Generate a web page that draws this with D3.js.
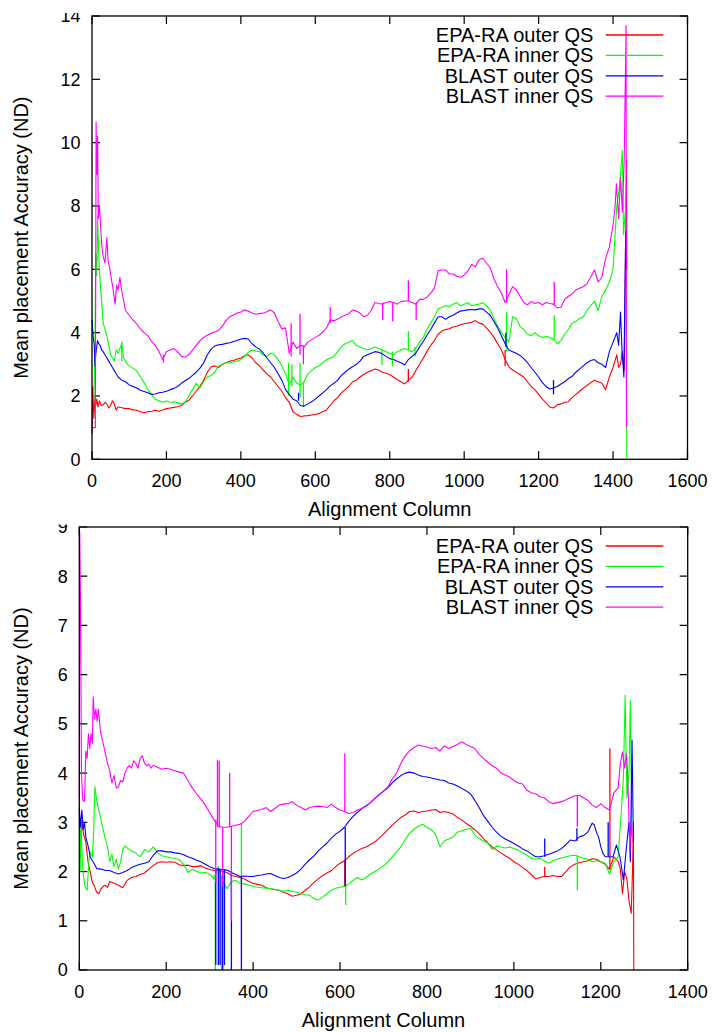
<!DOCTYPE html>
<html><head><meta charset="utf-8">
<script src="https://cdn.jsdelivr.net/npm/d3@7"></script>
<style>body{margin:0;background:#fff}svg{display:block}text{font-family:"Liberation Sans",Arial,sans-serif;fill:#000}</style>
</head><body><svg id="c" width="715" height="1033"></svg>
<script>
// ---------------- DATA ----------------
const seriesNames = ["EPA-RA outer QS","EPA-RA inner QS","BLAST outer QS","BLAST inner QS"];
const seriesColors = ["#ff0000","#00ff00","#0000ff","#ff00ff"];
const xLabel = "Alignment Column";
const yLabel = "Mean placement Accuracy (ND)";
const topXTicks = [0,200,400,600,800,1000,1200,1400,1600];
const topYTicks = [0,2,4,6,8,10,12,14];
const botXTicks = [0,200,400,600,800,1000,1200,1400];
const botYTicks = [0,1,2,3,4,5,6,7,8,9];

// Top chart: [column, mean accuracy]
const topRed = [[0,0.8],[2,2.3],[5,1.3],[8,1.95],[10,1.7],[13,1.9],[16,1.65],[20,1.85],[25,1.7],[30,1.72],[35,1.8],[40,1.75],[45,1.62],[50,1.7],[55,1.85],[60,1.75],[65,1.55],[70,1.65],[80,1.63],[90,1.6],[100,1.6],[110,1.56],[120,1.55],[130,1.5],[140,1.47],[150,1.5],[160,1.52],[170,1.55],[180,1.52],[190,1.56],[200,1.6],[210,1.62],[220,1.64],[230,1.66],[240,1.7],[250,1.8],[260,1.86],[270,2.0],[280,2.15],[290,2.3],[300,2.5],[310,2.75],[320,2.92],[330,2.95],[340,2.9],[350,3.0],[360,3.05],[370,3.1],[380,3.12],[390,3.17],[400,3.2],[410,3.27],[420,3.3],[430,3.2],[440,3.05],[450,2.95],[460,2.82],[470,2.7],[480,2.6],[490,2.45],[500,2.3],[510,2.15],[520,1.95],[530,1.8],[540,1.5],[550,1.42],[560,1.35],[570,1.37],[580,1.38],[590,1.4],[600,1.41],[610,1.45],[620,1.5],[630,1.56],[640,1.7],[650,1.85],[660,1.95],[670,2.1],[680,2.2],[690,2.3],[700,2.45],[710,2.5],[720,2.6],[730,2.68],[740,2.75],[750,2.8],[760,2.85],[770,2.82],[780,2.75],[790,2.72],[800,2.68],[810,2.6],[820,2.52],[830,2.45],[840,2.38],[850,2.5],[860,2.6],[870,2.8],[880,3.0],[890,3.2],[900,3.4],[910,3.6],[920,3.75],[930,3.95],[940,4.05],[950,4.1],[960,4.12],[970,4.18],[980,4.2],[990,4.25],[1000,4.28],[1010,4.3],[1020,4.33],[1030,4.38],[1040,4.3],[1050,4.27],[1060,4.15],[1070,4.02],[1080,3.85],[1090,3.65],[1100,3.45],[1110,3.15],[1120,2.92],[1130,2.82],[1140,2.75],[1150,2.68],[1160,2.6],[1170,2.45],[1180,2.3],[1190,2.2],[1200,2.05],[1210,1.9],[1220,1.78],[1230,1.65],[1240,1.62],[1250,1.72],[1260,1.75],[1270,1.8],[1280,1.82],[1290,1.95],[1300,2.05],[1310,2.15],[1320,2.25],[1330,2.33],[1340,2.42],[1350,2.5],[1360,2.45],[1370,2.4],[1380,2.2],[1390,2.6],[1400,2.9],[1410,3.3],[1415,2.9],[1420,3.0],[1425,3.4],[1430,2.8],[1436,9.45],[1437,6.0]];
const topGreen = [[5,1.9],[8,3.5],[10,6.5],[13,5.8],[15,7.7],[18,6.5],[20,6.0],[23,5.4],[26,5.0],[30,4.3],[35,4.1],[40,3.9],[45,3.6],[50,3.3],[55,3.2],[60,3.1],[65,3.45],[70,3.35],[75,3.5],[80,3.65],[85,3.2],[90,3.1],[95,3.0],[100,2.95],[110,2.88],[120,2.8],[130,2.6],[140,2.42],[150,2.2],[160,2.05],[170,1.9],[180,1.85],[190,1.8],[200,1.84],[210,1.8],[220,1.82],[230,1.79],[240,1.75],[250,1.8],[260,2.0],[270,2.2],[280,2.4],[290,2.25],[300,2.45],[310,2.6],[320,2.65],[330,2.75],[340,2.95],[350,3.0],[360,3.05],[370,3.04],[380,3.08],[390,3.1],[400,3.15],[410,3.25],[420,3.38],[430,3.45],[440,3.42],[450,3.4],[460,3.3],[470,3.25],[480,3.35],[490,3.3],[500,3.15],[510,2.95],[520,2.7],[530,2.35],[540,2.6],[550,2.4],[560,2.35],[570,2.45],[580,2.7],[590,2.8],[600,2.9],[610,2.95],[620,3.05],[630,3.15],[640,3.2],[650,3.25],[660,3.4],[670,3.55],[680,3.65],[690,3.7],[700,3.75],[710,3.6],[720,3.55],[730,3.5],[740,3.45],[750,3.5],[760,3.55],[770,3.5],[780,3.45],[790,3.4],[800,3.35],[810,3.3],[820,3.4],[830,3.45],[840,3.5],[850,3.45],[860,3.4],[870,3.5],[880,3.7],[890,3.85],[900,4.1],[910,4.3],[920,4.5],[930,4.75],[940,4.8],[950,4.85],[960,4.82],[970,4.9],[980,4.95],[990,4.85],[1000,4.9],[1010,4.95],[1020,4.85],[1030,4.88],[1040,4.9],[1050,4.95],[1060,4.85],[1070,4.72],[1080,4.45],[1090,4.2],[1100,4.0],[1110,3.85],[1120,3.7],[1130,4.5],[1140,4.45],[1150,4.2],[1160,4.1],[1170,3.95],[1180,3.9],[1190,4.0],[1200,3.9],[1210,3.85],[1220,3.88],[1230,3.85],[1240,3.8],[1250,3.65],[1260,3.75],[1270,3.95],[1280,4.1],[1290,4.3],[1300,4.35],[1310,4.45],[1320,4.5],[1330,4.7],[1340,4.85],[1350,5.0],[1360,4.7],[1370,5.15],[1380,5.35],[1390,5.6],[1400,6.0],[1405,7.0],[1410,8.0],[1415,8.4],[1420,9.0],[1425,9.75],[1428,7.1],[1434,8.0],[1437,0]];
const topBlue = [[0,4.4],[3,3.9],[6,3.6],[8,2.95],[10,3.3],[12,3.5],[15,3.75],[18,3.65],[22,3.6],[26,3.45],[30,3.4],[35,3.3],[40,3.2],[45,3.1],[50,3.0],[55,2.9],[60,2.8],[65,2.7],[70,2.6],[75,2.55],[80,2.5],[90,2.45],[100,2.35],[110,2.3],[120,2.25],[130,2.18],[140,2.14],[150,2.1],[160,2.05],[170,2.06],[180,2.1],[190,2.12],[200,2.15],[210,2.2],[220,2.24],[230,2.3],[240,2.4],[250,2.48],[260,2.55],[270,2.65],[280,2.75],[290,2.88],[300,3.05],[310,3.3],[320,3.48],[330,3.58],[340,3.62],[350,3.63],[360,3.66],[370,3.68],[380,3.72],[390,3.75],[400,3.8],[410,3.82],[420,3.8],[430,3.65],[440,3.55],[450,3.48],[460,3.35],[470,3.2],[480,3.05],[490,2.9],[500,2.7],[510,2.5],[520,2.2],[530,2.05],[540,1.9],[550,1.85],[560,1.7],[570,1.68],[580,1.75],[590,1.82],[600,1.9],[610,2.0],[620,2.1],[630,2.2],[640,2.32],[650,2.4],[660,2.5],[670,2.65],[680,2.75],[690,2.85],[700,2.92],[710,3.0],[720,3.1],[730,3.25],[740,3.3],[750,3.35],[760,3.4],[770,3.38],[780,3.33],[790,3.25],[800,3.18],[810,3.15],[820,3.1],[830,3.05],[840,2.98],[850,3.15],[860,3.25],[870,3.35],[880,3.55],[890,3.72],[900,3.92],[910,4.1],[920,4.3],[930,4.5],[940,4.5],[950,4.42],[960,4.5],[970,4.55],[980,4.62],[990,4.68],[1000,4.7],[1010,4.72],[1020,4.73],[1030,4.72],[1040,4.75],[1050,4.75],[1060,4.65],[1070,4.55],[1080,4.35],[1090,4.15],[1100,3.9],[1110,3.65],[1120,3.45],[1130,3.4],[1140,3.35],[1150,3.28],[1160,3.18],[1170,3.05],[1180,2.9],[1190,2.75],[1200,2.6],[1210,2.42],[1220,2.3],[1230,2.22],[1240,2.25],[1250,2.3],[1260,2.38],[1270,2.45],[1280,2.55],[1290,2.62],[1300,2.75],[1310,2.85],[1320,2.95],[1330,3.05],[1340,3.12],[1350,3.15],[1360,3.05],[1370,3.0],[1380,2.9],[1390,3.4],[1400,3.7],[1410,4.0],[1415,3.6],[1420,4.65],[1424,3.45],[1429,2.6],[1434,7.2],[1436,6.0]];
const topMagenta = [[0,1.0],[5,1.0],[9,1.0],[11,10.65],[13,9.0],[15,10.2],[17,7.6],[20,8.0],[23,7.4],[26,6.8],[30,6.4],[35,6.2],[40,7.0],[43,6.3],[48,6.0],[52,5.7],[57,5.35],[62,4.9],[66,5.5],[70,5.35],[75,5.75],[80,5.3],[85,5.0],[90,4.7],[100,4.55],[110,4.4],[120,4.28],[130,4.12],[140,4.0],[150,3.9],[160,3.72],[170,3.6],[180,3.4],[190,3.15],[200,3.4],[210,3.45],[220,3.5],[230,3.4],[240,3.25],[250,3.22],[260,3.3],[270,3.45],[280,3.6],[290,3.75],[300,3.85],[310,3.92],[320,3.98],[330,4.02],[340,4.07],[350,4.2],[360,4.38],[370,4.5],[380,4.56],[390,4.62],[400,4.65],[410,4.72],[420,4.68],[430,4.62],[440,4.58],[450,4.6],[460,4.62],[470,4.66],[480,4.72],[490,4.62],[500,4.35],[510,4.12],[520,4.15],[530,3.35],[540,3.7],[550,3.5],[560,3.6],[570,3.55],[580,3.7],[590,3.78],[600,3.85],[610,3.92],[620,4.02],[630,4.15],[640,4.4],[650,4.38],[660,4.42],[670,4.5],[680,4.55],[690,4.6],[700,4.72],[710,4.68],[720,4.62],[730,4.5],[740,4.55],[750,4.7],[760,4.95],[770,4.92],[780,4.9],[790,4.95],[800,4.98],[810,4.95],[820,4.9],[830,4.98],[840,5.0],[850,5.0],[860,4.95],[870,4.9],[880,5.05],[890,5.05],[900,5.12],[910,5.25],[920,5.4],[930,5.95],[940,5.98],[950,5.98],[960,5.85],[970,5.85],[980,5.78],[990,5.75],[1000,5.82],[1010,5.95],[1020,6.15],[1030,6.08],[1040,6.3],[1050,6.35],[1060,6.2],[1070,6.05],[1080,5.7],[1090,5.45],[1100,5.25],[1110,4.95],[1120,5.2],[1130,5.45],[1140,5.35],[1150,5.15],[1160,4.95],[1170,4.88],[1180,4.98],[1190,4.92],[1200,4.95],[1210,4.88],[1220,4.95],[1230,4.92],[1240,4.9],[1250,4.78],[1260,4.8],[1270,5.05],[1280,5.15],[1290,5.22],[1300,5.35],[1310,5.4],[1320,5.45],[1330,5.55],[1340,5.75],[1350,5.98],[1360,5.6],[1370,5.75],[1380,6.35],[1390,6.7],[1400,7.4],[1405,7.9],[1409,8.7],[1415,7.6],[1420,8.9],[1425,7.8],[1430,9.5],[1435,13.7],[1436,1.0]];
// single-column spikes: [column, low, high]
const topRedSpikes = [[850,2.45,2.85],[1110,2.95,3.45]];
const topGreenSpikes = [[80,3.1,3.72],[528,2.0,3.05],[537,2.3,3.0],[559,1.95,3.05],[568,1.65,2.4],[779,2.98,3.5],[807,2.95,3.4],[850,3.45,4.05],[868,3.25,3.55],[1114,3.4,4.65],[1242,3.8,4.55]];
const topBlueSpikes = [[555,1.85,2.1],[1112,3.55,4.0],[1240,2.05,2.5]];
const topMagentaSpikes = [[192,3.05,3.3],[535,3.25,4.3],[559,3.3,4.6],[568,3.0,3.6],[640,4.3,4.8],[781,4.4,4.95],[808,4.35,4.95],[850,5.0,5.65],[871,4.4,4.95],[1114,4.95,6.0],[1242,4.85,5.6]];

// Bottom chart
const botRed = [[0,2.9],[3,2.6],[6,3.0],[10,2.75],[15,2.6],[20,2.2],[25,2.0],[30,1.78],[35,1.7],[40,1.58],[45,1.55],[50,1.65],[55,1.7],[60,1.72],[65,1.68],[70,1.8],[80,1.76],[90,1.72],[100,1.67],[110,1.82],[120,1.88],[130,1.9],[140,1.94],[150,1.97],[160,2.05],[170,2.12],[180,2.18],[190,2.2],[200,2.19],[210,2.2],[220,2.19],[230,2.14],[240,2.12],[250,2.13],[260,2.1],[270,2.1],[280,2.12],[290,2.07],[300,2.04],[310,2.02],[320,2.02],[330,2.0],[340,1.98],[350,1.92],[360,1.9],[370,1.88],[380,1.85],[390,1.8],[400,1.76],[410,1.74],[420,1.72],[430,1.67],[440,1.65],[450,1.63],[460,1.62],[470,1.58],[480,1.55],[490,1.5],[500,1.52],[510,1.55],[520,1.62],[530,1.69],[540,1.78],[550,1.85],[560,1.92],[570,1.97],[580,2.02],[590,2.1],[600,2.17],[610,2.22],[620,2.3],[630,2.37],[640,2.42],[650,2.47],[660,2.5],[670,2.55],[680,2.6],[690,2.68],[700,2.76],[710,2.85],[720,2.94],[730,3.02],[740,3.1],[750,3.15],[760,3.22],[770,3.23],[780,3.2],[790,3.22],[800,3.23],[810,3.25],[820,3.26],[830,3.2],[840,3.22],[850,3.2],[860,3.17],[870,3.1],[880,3.05],[890,2.98],[900,2.92],[910,2.85],[920,2.77],[930,2.67],[940,2.58],[950,2.5],[960,2.44],[970,2.38],[980,2.32],[990,2.27],[1000,2.2],[1010,2.15],[1020,2.08],[1030,2.02],[1040,1.94],[1050,1.85],[1060,1.88],[1070,1.9],[1080,1.9],[1090,1.92],[1100,1.9],[1110,1.9],[1120,2.0],[1130,2.1],[1140,2.15],[1150,2.18],[1160,2.2],[1170,2.22],[1180,2.26],[1190,2.25],[1200,2.2],[1210,2.15],[1220,2.05],[1230,2.3],[1240,2.2],[1245,2.05],[1250,1.55],[1255,2.0],[1260,1.85],[1265,1.4],[1270,1.15],[1273,2.0],[1275,3.0],[1276,0]];
const botGreen = [[0,3.3],[2,2.0],[4,3.0],[7,2.2],[10,1.9],[13,1.7],[18,1.62],[22,2.2],[25,2.4],[30,2.3],[33,2.8],[36,3.72],[40,3.45],[45,3.25],[50,3.05],[55,2.85],[60,2.65],[65,2.5],[70,2.2],[75,2.35],[80,2.1],[85,2.25],[90,2.05],[95,2.2],[100,2.45],[105,2.52],[110,2.48],[120,2.42],[130,2.38],[140,2.3],[150,2.45],[160,2.4],[170,2.5],[180,2.38],[190,2.32],[200,2.3],[210,2.28],[220,2.27],[230,2.24],[240,2.15],[250,1.98],[260,2.05],[270,2.0],[280,1.97],[290,1.98],[300,1.95],[310,1.85],[320,2.1],[330,1.8],[340,1.65],[350,1.8],[360,1.82],[370,1.76],[380,1.75],[390,1.72],[400,1.7],[410,1.68],[420,1.67],[430,1.66],[440,1.65],[450,1.64],[460,1.62],[470,1.6],[480,1.62],[490,1.6],[500,1.58],[510,1.55],[520,1.53],[530,1.52],[540,1.45],[550,1.42],[560,1.48],[570,1.55],[580,1.62],[590,1.66],[600,1.68],[610,1.7],[620,1.75],[630,1.82],[640,1.88],[650,1.83],[660,1.88],[670,1.95],[680,2.0],[690,2.06],[700,2.12],[710,2.2],[720,2.3],[730,2.4],[740,2.5],[750,2.65],[760,2.78],[770,2.86],[780,2.92],[790,2.96],[800,2.9],[810,2.85],[820,2.75],[830,2.5],[840,2.62],[850,2.66],[860,2.7],[870,2.8],[880,2.83],[890,2.86],[900,2.88],[910,2.74],[920,2.67],[930,2.62],[940,2.58],[950,2.45],[960,2.52],[970,2.5],[980,2.48],[990,2.5],[1000,2.47],[1010,2.44],[1020,2.38],[1030,2.33],[1040,2.27],[1050,2.25],[1060,2.27],[1070,2.22],[1080,2.17],[1090,2.22],[1100,2.25],[1110,2.28],[1120,2.3],[1130,2.32],[1140,2.33],[1150,2.3],[1160,2.27],[1170,2.25],[1180,2.2],[1190,2.22],[1200,2.2],[1210,2.17],[1220,1.95],[1230,2.2],[1240,2.3],[1247,3.2],[1252,3.9],[1256,5.58],[1260,3.5],[1265,4.0],[1268,5.48],[1271,3.0]];
const botBlue = [[0,3.3],[3,2.9],[6,3.25],[9,2.85],[12,3.0],[15,2.7],[18,2.6],[22,2.45],[25,2.3],[30,2.22],[35,2.15],[40,2.06],[50,2.05],[60,2.02],[70,2.02],[80,1.98],[90,1.95],[100,1.98],[110,2.02],[120,2.08],[130,2.12],[140,2.15],[150,2.17],[160,2.2],[170,2.33],[180,2.42],[190,2.42],[200,2.4],[210,2.4],[220,2.38],[230,2.37],[240,2.34],[250,2.3],[260,2.27],[270,2.23],[280,2.2],[290,2.15],[300,2.1],[310,2.06],[320,2.05],[330,2.04],[340,2.03],[350,1.98],[360,1.94],[370,1.9],[380,1.91],[390,1.9],[400,1.9],[410,1.92],[420,1.93],[430,1.95],[440,1.96],[450,1.92],[460,1.88],[470,1.86],[480,1.88],[490,1.92],[500,1.97],[510,2.05],[520,2.15],[530,2.24],[540,2.32],[550,2.42],[560,2.5],[570,2.58],[580,2.68],[590,2.76],[600,2.82],[610,2.9],[620,3.02],[630,3.12],[640,3.2],[650,3.28],[660,3.33],[670,3.4],[680,3.48],[690,3.56],[700,3.63],[710,3.7],[720,3.8],[730,3.88],[740,3.95],[750,4.0],[760,4.02],[770,4.0],[780,3.96],[790,3.93],[800,3.92],[810,3.9],[820,3.88],[830,3.86],[840,3.85],[850,3.8],[860,3.78],[870,3.74],[880,3.69],[890,3.64],[900,3.58],[910,3.45],[920,3.3],[930,3.14],[940,3.02],[950,2.9],[960,2.8],[970,2.72],[980,2.66],[990,2.62],[1000,2.57],[1010,2.52],[1020,2.46],[1030,2.42],[1040,2.36],[1050,2.3],[1060,2.3],[1070,2.32],[1080,2.35],[1090,2.38],[1100,2.42],[1110,2.47],[1120,2.55],[1130,2.64],[1140,2.62],[1150,2.7],[1160,2.73],[1170,2.8],[1180,2.98],[1185,2.95],[1190,2.8],[1195,2.7],[1200,2.5],[1205,2.37],[1210,2.3],[1220,2.3],[1228,2.3],[1236,2.54],[1244,2.3],[1252,1.83],[1259,2.5],[1265,3.0],[1268,2.2],[1272,4.67],[1275,2.6]];
const botMagenta = [[0,3.5],[1,8.9],[3,7.35],[5,4.0],[8,3.45],[12,3.42],[15,4.45],[18,4.3],[21,4.8],[24,4.5],[27,4.8],[30,4.6],[32,5.55],[35,5.1],[38,5.3],[41,5.05],[44,5.3],[48,4.9],[51,4.74],[55,4.6],[60,4.4],[65,4.2],[70,4.05],[75,3.8],[80,3.95],[85,3.7],[90,3.72],[95,3.85],[100,3.82],[105,4.0],[110,4.1],[115,4.15],[120,4.1],[125,4.25],[130,4.2],[135,4.1],[140,4.3],[145,4.35],[150,4.2],[155,4.15],[160,4.18],[165,4.1],[170,4.16],[180,4.12],[190,4.08],[200,4.1],[210,4.08],[220,4.05],[230,4.02],[240,4.0],[250,3.85],[260,3.7],[270,3.58],[280,3.47],[290,3.35],[300,3.2],[310,3.05],[320,2.92],[330,2.9],[340,2.9],[350,2.92],[360,2.94],[370,2.96],[380,3.02],[390,3.12],[400,3.22],[410,3.24],[420,3.26],[430,3.3],[440,3.22],[450,3.28],[460,3.35],[470,3.37],[480,3.38],[490,3.42],[500,3.35],[510,3.3],[520,3.25],[530,3.3],[540,3.32],[550,3.33],[560,3.32],[570,3.3],[580,3.37],[590,3.3],[600,3.25],[610,3.22],[620,3.18],[630,3.2],[640,3.25],[650,3.28],[660,3.34],[670,3.4],[680,3.49],[690,3.56],[700,3.64],[710,3.72],[720,3.88],[730,4.0],[740,4.2],[750,4.35],[760,4.45],[770,4.52],[780,4.57],[790,4.55],[800,4.53],[810,4.5],[820,4.52],[830,4.45],[840,4.55],[850,4.5],[860,4.54],[870,4.58],[880,4.64],[890,4.58],[900,4.54],[910,4.5],[920,4.38],[930,4.3],[940,4.22],[950,4.15],[960,4.1],[970,4.0],[980,3.96],[990,3.92],[1000,3.85],[1010,3.8],[1020,3.78],[1030,3.65],[1040,3.6],[1050,3.58],[1060,3.52],[1070,3.5],[1080,3.42],[1090,3.38],[1100,3.4],[1110,3.42],[1120,3.46],[1130,3.5],[1140,3.54],[1150,3.55],[1160,3.5],[1170,3.45],[1180,3.35],[1190,3.3],[1200,3.38],[1210,3.3],[1220,3.25],[1230,3.6],[1240,3.7],[1245,4.2],[1250,4.43],[1255,4.1],[1259,4.4],[1262,3.96],[1267,2.4],[1270,3.0],[1272,2.7]];
const botRedSpikes = [[611,1.7,2.23],[1071,1.9,2.1],[1221,2.03,4.5]];
const botGreenSpikes = [[313,0,1.95],[327,0,1.9],[373,1.76,2.98],[613,1.32,1.75],[1146,1.62,2.33]];
const botBlueSpikes = [[314,0.1,2.06],[320,0.1,2.05],[324,0.1,2.05],[330,0,2.04],[334,0.1,2.04],[350,0,1.98],[373,0,1.9],[612,1.7,2.9],[1071,2.3,2.67],[1145,2.62,2.88],[1217,2.3,3.0]];
const botMagentaSpikes = [[314,1.76,3.05],[318,2.9,4.27],[322,2.9,4.25],[330,1.7,2.9],[346,2.9,4.0],[350,1.0,2.92],[611,3.22,4.4],[1146,2.91,3.55]];

// ---------------- DRAW ----------------
const svg = d3.select("#c");
const panels = [
  {id:"t", left:92, right:687.5, top:16, bottom:459.3, xMax:1600, yMax:14, xTicks:topXTicks, yTicks:topYTicks,
   clipTop:13, series:[topRed,topGreen,topBlue,topMagenta], spikes:[topRedSpikes,topGreenSpikes,topBlueSpikes,topMagentaSpikes]},
  {id:"b", left:79.3, right:687.7, top:527, bottom:970, xMax:1400, yMax:9, xTicks:botXTicks, yTicks:botYTicks,
   clipTop:524.5, series:[botRed,botGreen,botBlue,botMagenta], spikes:[botRedSpikes,botGreenSpikes,botBlueSpikes,botMagentaSpikes]}
];

panels.forEach(p => {
  const x = d3.scaleLinear().domain([0,p.xMax]).range([p.left,p.right]);
  const y = d3.scaleLinear().domain([0,p.yMax]).range([p.bottom,p.top]);
  svg.append("clipPath").attr("id","clip"+p.id).append("rect")
     .attr("x",0).attr("y",p.clipTop).attr("width",715).attr("height",1033-p.clipTop);
  const g = svg.append("g").attr("clip-path","url(#clip"+p.id+")");
  const T = 8;
  // ticks (inward, mirrored)
  const tk = g.append("g").attr("stroke","#000").attr("stroke-width",1.2);
  p.xTicks.forEach(v => {
    tk.append("line").attr("x1",x(v)).attr("x2",x(v)).attr("y1",p.bottom).attr("y2",p.bottom-T);
    tk.append("line").attr("x1",x(v)).attr("x2",x(v)).attr("y1",p.top).attr("y2",p.top+T);
  });
  p.yTicks.forEach(v => {
    tk.append("line").attr("x1",p.left).attr("x2",p.left+T).attr("y1",y(v)).attr("y2",y(v));
    tk.append("line").attr("x1",p.right).attr("x2",p.right-T).attr("y1",y(v)).attr("y2",y(v));
  });
  // tick labels
  p.xTicks.forEach(v => g.append("text").attr("x",x(v)).attr("y",p.bottom+27.7)
      .attr("text-anchor","middle").attr("font-size",18).text(v));
  p.yTicks.forEach(v => g.append("text").attr("x",p.left-11.5).attr("y",y(v)).attr("dy","0.36em")
      .attr("text-anchor","end").attr("font-size",18).text(v));
  // axis labels
  g.append("text").attr("x",(p.left+p.right)/2).attr("y",p.bottom+56.5).attr("text-anchor","middle")
      .attr("font-size",20).text(xLabel);
  g.append("text").attr("transform",`translate(28,${(p.top+p.bottom)/2}) rotate(-90)`).attr("text-anchor","middle")
      .attr("font-size",20).text(yLabel);
  // series
  const line = d3.line().x(d=>x(d[0])).y(d=>y(d[1]));
  p.series.forEach((s,i) => {
    g.append("path").datum(s).attr("d",line).attr("fill","none")
      .attr("stroke",seriesColors[i]).attr("stroke-width",1.1).attr("stroke-linejoin","round");
    g.append("g").selectAll("line").data(p.spikes[i]).join("line")
      .attr("x1",d=>x(d[0])).attr("x2",d=>x(d[0])).attr("y1",d=>y(d[1])).attr("y2",d=>y(d[2]))
      .attr("stroke",seriesColors[i]).attr("stroke-width",1.3);
  });
  // border
  g.append("rect").attr("x",p.left).attr("y",p.top).attr("width",p.right-p.left).attr("height",p.bottom-p.top)
    .attr("fill","none").attr("stroke","#000").attr("stroke-width",1.3);
  // legend
  seriesNames.forEach((n,i) => {
    const ly = p.top + 19 + i*20.4;
    g.append("text").attr("x",593.3).attr("y",ly+6.7).attr("text-anchor","end").attr("font-size",20).text(n);
    g.append("line").attr("x1",605.7).attr("x2",663.3).attr("y1",ly).attr("y2",ly)
      .attr("stroke",seriesColors[i]).attr("stroke-width",1.3);
  });
});
</script></body></html>
